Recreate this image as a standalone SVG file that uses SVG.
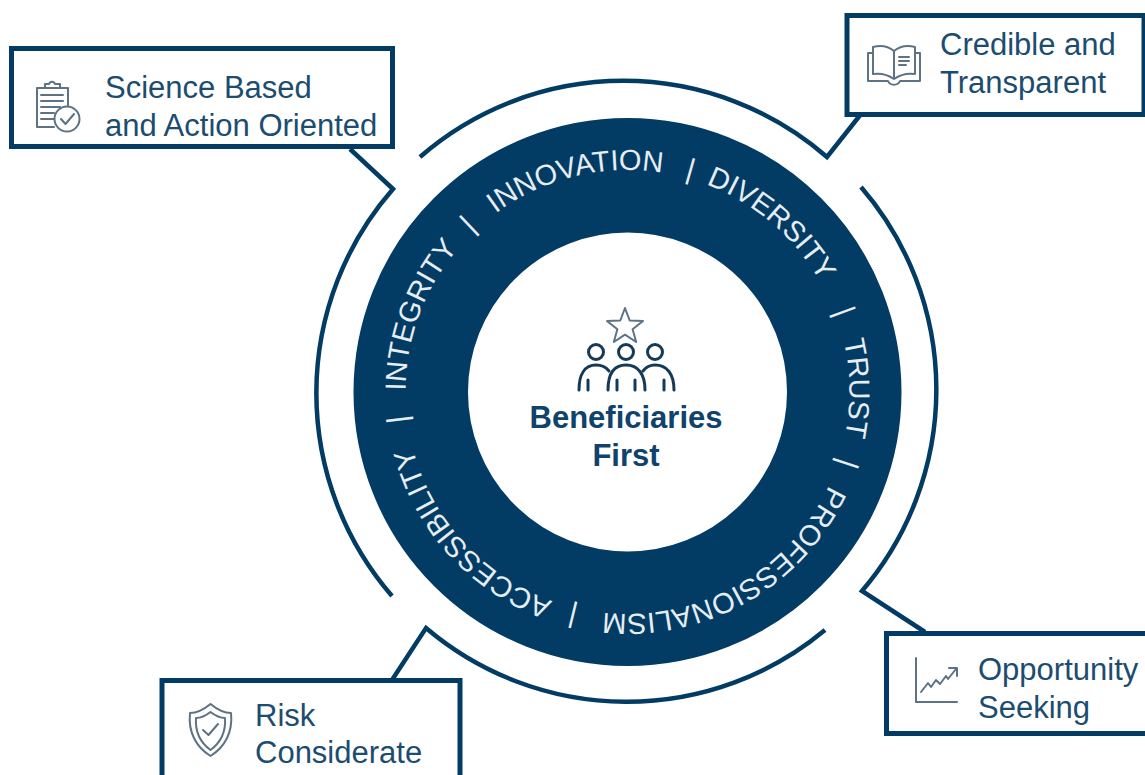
<svg xmlns="http://www.w3.org/2000/svg" width="1145" height="775" viewBox="0 0 1145 775">
<style>
.box{fill:#fff;stroke:#023c64;stroke-width:5}
.lbl{font-family:"Liberation Sans",Arial,sans-serif;font-size:31px;fill:#1c4c70}
.ctr{font-family:"Liberation Sans",Arial,sans-serif;font-size:31px;font-weight:bold;fill:#0f436b;text-anchor:middle}
.rt{font-family:"Liberation Sans",Arial,sans-serif;font-size:29px;fill:#e6edf3;text-anchor:middle}
.ic{fill:none;stroke:#5d7385;stroke-width:2;stroke-linejoin:round;stroke-linecap:round}
.pp{fill:none;stroke:#143a58;stroke-width:3;stroke-linecap:round}
.cn{fill:none;stroke:#023c64;stroke-width:4.5;stroke-linejoin:miter}
</style>
<defs>
<path id="rp" d="M405.8 403.6A222 222 0 1 1 849.2 380.4A222 222 0 1 1 405.8 403.6Z"/>
</defs>
<rect width="1145" height="775" fill="#fff"/>
<g id="connectors">
<path class="cn" d="M420 157A310 310 0 0 1 827 157L861 114"/>
<path class="cn" d="M861 187A310 310 0 0 1 862 591L925 632"/>
<path class="cn" d="M825 630A310 310 0 0 1 426 628L392 680"/>
<path class="cn" d="M392 596A310 310 0 0 1 393 189L350 149"/>
</g>
<g id="ring">
<circle cx="627.5" cy="392" r="216.75" fill="none" stroke="#023c64" stroke-width="114.5"/>
<text class="rt"><textPath href="#rp" startOffset="90.3">INTEGRITY</textPath></text>
<text class="rt"><textPath href="#rp" startOffset="191.4">|</textPath></text>
<text class="rt"><textPath href="#rp" startOffset="307">INNOVATION</textPath></text>
<text class="rt"><textPath href="#rp" startOffset="421.6">|</textPath></text>
<text class="rt"><textPath href="#rp" startOffset="516.9">DIVERSITY</textPath></text>
<text class="rt"><textPath href="#rp" startOffset="630">|</textPath></text>
<text class="rt"><textPath href="#rp" startOffset="705.2">TRUST</textPath></text>
<text class="rt"><textPath href="#rp" startOffset="778.8">|</textPath></text>
<text class="rt"><textPath href="#rp" startOffset="943.5">PROFESSIONALISM</textPath></text>
<text class="rt"><textPath href="#rp" startOffset="1110.8">|</textPath></text>
<text class="rt"><textPath href="#rp" startOffset="1241.8">ACCESSIBILITY</textPath></text>
<text class="rt"><textPath href="#rp" startOffset="1379.3">|</textPath></text>
</g>
<g id="center">
<path class="ic" d="M625 308L629.7 320.5L643 321L632.6 329.3L636.2 342L625 334.7L613.8 342L617.4 329.3L607 321L620.3 320.5Z"/>
<circle class="pp" cx="596" cy="352" r="7.5"/>
<circle class="pp" cx="626" cy="352" r="7.5"/>
<circle class="pp" cx="655" cy="352" r="7.5"/>
<path class="pp" d="M579 390C579 374 585 365 596 365C602 365 606 367 609 371"/>
<path class="pp" d="M608 390C608 374 614 365 626 365C638 365 645 374 645 390"/>
<path class="pp" d="M643 371C646 367 650 365 655 365C667 365 674 374 674 390"/>
<path class="pp" d="M588 380V390M617 380V390M635 380V390M664 380V390"/>
<text class="ctr" x="626" y="428">Beneficiaries</text>
<text class="ctr" x="626" y="466">First</text>
</g>
<g id="science-based">
<rect class="box" x="11.5" y="48.5" width="381" height="98"/>
<path class="ic" d="M54 127H37V88H68V106M45 88V84H49C50 81 54 81 55 84H60V88Z"/>
<path class="ic" d="M41 95H63M41 101H63M41 107H60M41 113H54M41 119H54"/>
<circle class="ic" cx="67" cy="119" r="12.5"/>
<path class="ic" d="M61 119L65.500 124L74 114"/>
<text class="lbl" x="105" y="98">Science Based</text>
<text class="lbl" x="105" y="136">and Action Oriented</text>
</g>
<g id="credible">
<rect class="box" x="847" y="15.500" width="297" height="99"/>
<path class="ic" d="M894 79C887 74 880 73 873 74V47C881 45 888 46 894 51C900 46 907 45 915 47V74C908 73 901 74 894 79ZM894 51V79"/>
<path class="ic" d="M873 53H868V81H888C890 86 898 86 900 81H920V53H915"/>
<path class="ic" d="M899 57H909M899 61H909M899 65H906"/>
<text class="lbl" x="940" y="55">Credible and</text>
<text class="lbl" x="940" y="93">Transparent</text>
</g>
<g id="risk">
<rect class="box" x="162" y="680.500" width="298" height="120"/>
<path class="ic" d="M210.500 704C202 711 196 713 190 713C188 732 196 747 210.500 756C225 747 233 732 231 713C225 713 219 711 210.500 704Z"/>
<path class="ic" d="M210.500 712C204 717 200 718 196 718C195 732 201 743 210.500 750C220 743 226 732 225 718C221 718 217 717 210.500 712Z"/>
<path class="ic" d="M203 730L208.500 735L218 724"/>
<text class="lbl" x="255" y="726">Risk</text>
<text class="lbl" x="255" y="763">Considerate</text>
</g>
<g id="opportunity">
<rect class="box" x="886.500" y="633.500" width="270" height="100"/>
<path class="ic" d="M916 658V702H957"/>
<path class="ic" d="M921 692L928 683L931 687L936 680L940 684L946 676L948 679L956 669M949 668H957V676"/>
<text class="lbl" x="978" y="680">Opportunity</text>
<text class="lbl" x="978" y="718">Seeking</text>
</g>
</svg>
